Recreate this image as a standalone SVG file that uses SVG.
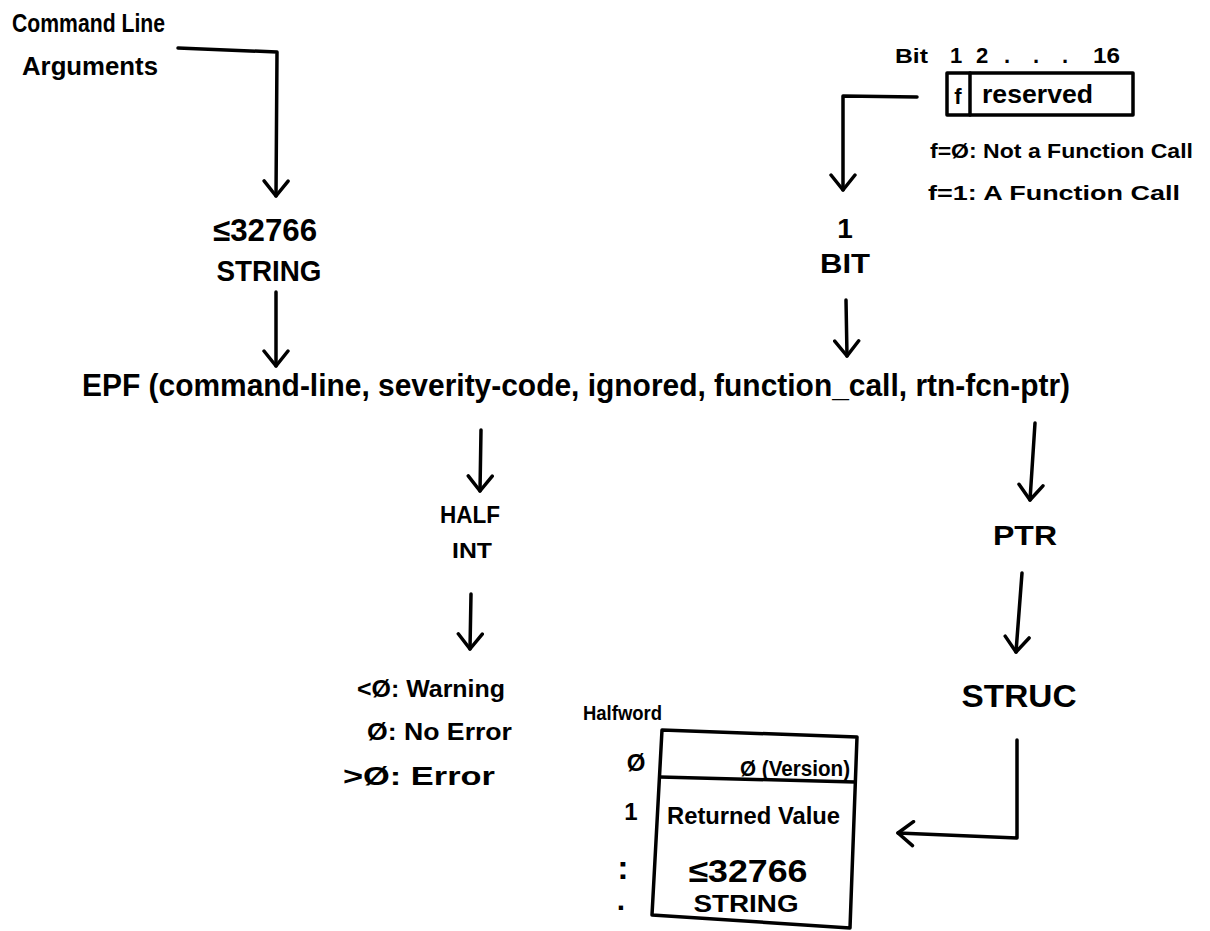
<svg xmlns="http://www.w3.org/2000/svg" width="1210" height="931" viewBox="0 0 1210 931">
<style>
text{font-family:"Liberation Sans",Arial,sans-serif;fill:#000;font-weight:bold}
.ln{fill:none;stroke:#000;stroke-width:3.5;stroke-linecap:round;stroke-linejoin:round}
.box{fill:none;stroke:#000;stroke-width:3.5;stroke-linejoin:round}
.c{text-anchor:middle}
</style>
<defs>
<marker id="ah" markerUnits="userSpaceOnUse" viewBox="-18 -14 22 28" markerWidth="22" markerHeight="28" refX="0" refY="0" orient="auto">
<path d="M-15,-12 L0,0 L-15,12" fill="none" stroke="#000" stroke-width="3.5" stroke-linecap="round" stroke-linejoin="round"/>
</marker>
</defs>
<rect width="1210" height="931" fill="#fff"/>
<g id="connectors">
<path class="ln" d="M178,48 L277,52 L276,196" marker-end="url(#ah)"/>
<path class="ln" d="M276,292 L276,366" marker-end="url(#ah)"/>
<path class="ln" d="M917,97 L843,96 L843,190" marker-end="url(#ah)"/>
<path class="ln" d="M846,300 L847,356" marker-end="url(#ah)"/>
<path class="ln" d="M481,430 L480,491" marker-end="url(#ah)"/>
<path class="ln" d="M471,594 L470,649" marker-end="url(#ah)"/>
<path class="ln" d="M1035,423 L1030,500" marker-end="url(#ah)"/>
<path class="ln" d="M1022,573 L1016,652" marker-end="url(#ah)"/>
<path class="ln" d="M1017,740 L1017,838 L898,833" marker-end="url(#ah)"/>
</g>
<g id="command-line-args">
<text x="12" y="32" font-size="26" textLength="153" lengthAdjust="spacingAndGlyphs">Command Line</text>
<text x="22" y="75" font-size="26" textLength="136" lengthAdjust="spacingAndGlyphs">Arguments</text>
</g>
<g id="string-arg">
<text x="265" y="241" font-size="32" class="c" textLength="104" lengthAdjust="spacingAndGlyphs">≤32766</text>
<text x="269" y="281" font-size="30" class="c" textLength="105" lengthAdjust="spacingAndGlyphs">STRING</text>
</g>
<g id="bit-field">
<text x="895" y="63" font-size="20" textLength="33" lengthAdjust="spacingAndGlyphs">Bit</text>
<text x="950" y="63" font-size="22">1</text>
<text x="976" y="63" font-size="22">2</text>
<text x="1004" y="63" font-size="22" textLength="64" lengthAdjust="spacing">. . .</text>
<text x="1093" y="63" font-size="22" textLength="27" lengthAdjust="spacingAndGlyphs">16</text>
<rect class="box" x="947" y="73" width="186" height="42"/>
<line class="ln" x1="970" y1="73" x2="970" y2="115"/>
<text x="958" y="104" font-size="22" class="c">f</text>
<text x="982" y="103" font-size="26" textLength="111" lengthAdjust="spacingAndGlyphs">reserved</text>
</g>
<g id="bit-legend">
<text x="930" y="158" font-size="20" textLength="263" lengthAdjust="spacingAndGlyphs">f=Ø: Not a Function Call</text>
<text x="928" y="200" font-size="20" textLength="252" lengthAdjust="spacingAndGlyphs">f=1: A Function Call</text>
</g>
<g id="bit-type">
<text x="845" y="238" font-size="28" class="c">1</text>
<text x="845" y="273" font-size="28" class="c" textLength="50" lengthAdjust="spacingAndGlyphs">BIT</text>
</g>
<g id="epf-call">
<text x="82" y="396" font-size="32" textLength="988" lengthAdjust="spacingAndGlyphs">EPF (command-line, severity-code, ignored, function_call, rtn-fcn-ptr)</text>
</g>
<g id="half-int">
<text x="470" y="523" font-size="24" class="c" textLength="60" lengthAdjust="spacingAndGlyphs">HALF</text>
<text x="472" y="558" font-size="22" class="c" textLength="40" lengthAdjust="spacingAndGlyphs">INT</text>
</g>
<g id="severity-values">
<text x="357" y="697" font-size="24" textLength="148" lengthAdjust="spacingAndGlyphs">&lt;Ø: Warning</text>
<text x="367" y="740" font-size="24" textLength="145" lengthAdjust="spacingAndGlyphs">Ø: No Error</text>
<text x="343" y="785" font-size="26" textLength="152" lengthAdjust="spacingAndGlyphs">&gt;Ø: Error</text>
</g>
<g id="ptr">
<text x="1025" y="545" font-size="28" class="c" textLength="64" lengthAdjust="spacingAndGlyphs">PTR</text>
</g>
<g id="struc">
<text x="1019" y="707" font-size="32" class="c" textLength="115" lengthAdjust="spacingAndGlyphs">STRUC</text>
</g>
<g id="halfword-table">
<text x="583" y="720" font-size="20" textLength="79" lengthAdjust="spacingAndGlyphs">Halfword</text>
<path class="box" d="M662,730 L857,737 L850,928 L652,915 Z"/>
<path class="ln" d="M660,777 L855,782"/>
<text x="636" y="771" font-size="24" class="c">Ø</text>
<text x="631" y="820" font-size="24" class="c">1</text>
<text x="623" y="879" font-size="34" class="c">:</text>
<text x="621" y="910" font-size="30" class="c">.</text>
<text x="740" y="776" font-size="22" textLength="110" lengthAdjust="spacingAndGlyphs">Ø (Version)</text>
<text x="667" y="824" font-size="24" textLength="173" lengthAdjust="spacingAndGlyphs">Returned Value</text>
<text x="748" y="882" font-size="32" class="c" textLength="119" lengthAdjust="spacingAndGlyphs">≤32766</text>
<text x="746" y="912" font-size="24" class="c" textLength="105" lengthAdjust="spacingAndGlyphs">STRING</text>
</g>
</svg>
